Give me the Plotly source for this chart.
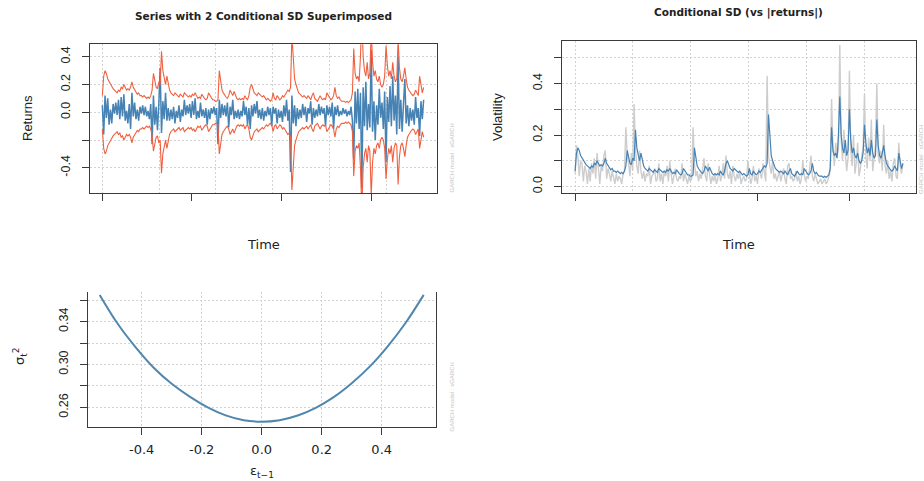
import plotly.graph_objects as go

# ---------------- data ----------------
sigma = [
    0.06, 0.13, 0.15, 0.14, 0.12, 0.11, 0.10, 0.09, 0.085, 0.08,
    0.075, 0.07, 0.08, 0.075, 0.09, 0.085, 0.10, 0.09, 0.08, 0.085,
    0.08, 0.09, 0.11, 0.09, 0.08, 0.07, 0.065, 0.07, 0.06, 0.06,
    0.055, 0.06, 0.055, 0.05, 0.055, 0.05, 0.06, 0.08, 0.14, 0.11,
    0.09, 0.085, 0.11, 0.10, 0.22, 0.15, 0.12, 0.10, 0.13, 0.10,
    0.08, 0.07, 0.065, 0.06, 0.07, 0.065, 0.06, 0.055, 0.065, 0.06,
    0.055, 0.07, 0.065, 0.06, 0.055, 0.06, 0.055, 0.065, 0.06, 0.07,
    0.06, 0.05, 0.055, 0.05, 0.065, 0.055, 0.05, 0.045, 0.05, 0.07,
    0.06, 0.05, 0.045, 0.045, 0.04, 0.04, 0.045, 0.15, 0.11, 0.08,
    0.07, 0.06, 0.055, 0.05, 0.06, 0.08, 0.07, 0.06, 0.075, 0.06,
    0.05, 0.045, 0.05, 0.045, 0.05, 0.045, 0.06, 0.05, 0.045, 0.06,
    0.09, 0.10, 0.08, 0.07, 0.065, 0.06, 0.07, 0.065, 0.06, 0.055,
    0.06, 0.05, 0.045, 0.05, 0.045, 0.04, 0.045, 0.07, 0.05, 0.045,
    0.06, 0.05, 0.045, 0.05, 0.06, 0.055, 0.065, 0.07, 0.08, 0.075,
    0.09, 0.28, 0.17, 0.12, 0.10, 0.08, 0.07, 0.065, 0.06, 0.055,
    0.06, 0.055, 0.05, 0.06, 0.05, 0.045, 0.06, 0.07, 0.05, 0.045,
    0.04, 0.05, 0.06, 0.05, 0.045, 0.05, 0.045, 0.07, 0.06, 0.05,
    0.045, 0.05, 0.06, 0.09, 0.06, 0.05, 0.055, 0.045, 0.04, 0.04,
    0.04, 0.035, 0.04, 0.035, 0.04, 0.045, 0.07, 0.23, 0.14, 0.12,
    0.13, 0.11, 0.20, 0.35, 0.20, 0.15, 0.13, 0.18, 0.12, 0.14,
    0.30, 0.18, 0.13, 0.15, 0.12, 0.11, 0.13, 0.10, 0.09, 0.10,
    0.13, 0.24, 0.17, 0.13, 0.15, 0.12, 0.18, 0.13, 0.11, 0.12,
    0.26, 0.16, 0.12, 0.11, 0.13, 0.16, 0.12, 0.09, 0.08, 0.07,
    0.065, 0.06, 0.065, 0.08, 0.07, 0.06, 0.13, 0.10, 0.07, 0.09,
]

returns = [
    0.05, -0.16, 0.12, -0.04, 0.10, -0.09, 0.02, -0.08, 0.06, -0.01,
    0.07, -0.02, 0.09, -0.05, 0.11, -0.03, 0.13, -0.06, 0.01, -0.08,
    0.06, -0.12, 0.14, -0.03, 0.07, -0.05, 0.02, -0.06, 0.04, -0.01,
    0.05, -0.02, 0.04, -0.03, 0.01, -0.05, 0.06, -0.23, 0.12, -0.09,
    0.04, -0.13, 0.06, 0.32, -0.15, 0.08, -0.05, 0.14, -0.06, 0.03,
    -0.06, 0.02, -0.05, 0.04, -0.08, 0.01, -0.04, 0.05, -0.07, 0.02,
    -0.03, 0.09, -0.02, 0.05, -0.01, 0.06, -0.04, 0.08, -0.02, 0.10,
    -0.05, 0.01, -0.04, 0.07, -0.03, 0.02, -0.04, 0.03, -0.09, 0.02,
    -0.05, 0.03, -0.01, 0.04, -0.02, 0.03, -0.23, 0.09, -0.04, 0.06,
    -0.02, 0.05, -0.03, 0.07, -0.11, 0.04, -0.02, 0.09, -0.05, 0.01,
    -0.04, 0.02, -0.05, 0.01, -0.03, 0.08, -0.02, 0.04, -0.09, 0.03,
    -0.12, 0.05, -0.03, 0.06, -0.01, 0.08, -0.04, 0.02, -0.05, 0.03,
    -0.06, 0.01, -0.03, 0.04, -0.02, 0.03, -0.10, 0.04, -0.01, 0.03,
    -0.08, 0.02, -0.04, 0.01, -0.07, 0.05, -0.03, 0.09, -0.06, 0.02,
    -0.43, 0.12, -0.08, 0.05, -0.10, 0.03, -0.05, 0.02, -0.04, 0.06,
    -0.02, 0.04, -0.07, 0.03, -0.01, 0.08, -0.09, 0.03, -0.04, 0.02,
    -0.03, 0.06, -0.02, 0.04, -0.01, 0.03, -0.10, 0.05, -0.02, 0.04,
    -0.03, 0.07, -0.12, 0.04, -0.02, 0.05, -0.03, 0.01, -0.02, 0.03,
    -0.01, 0.02, -0.03, 0.01, -0.02, 0.04, -0.06, -0.34, 0.15, -0.08,
    0.17, -0.12, 0.14, -0.55, 0.18, -0.10, 0.22, -0.13, 0.06, -0.11,
    0.45, -0.14, 0.08, -0.20, 0.05, -0.09, 0.17, -0.04, 0.07, -0.12,
    0.15, -0.36, 0.11, -0.07, 0.19, -0.10, 0.26, -0.06, 0.12, -0.16,
    0.40, -0.12, 0.09, -0.14, 0.06, 0.24, -0.08, 0.05, -0.10, 0.03,
    -0.06, 0.02, -0.09, 0.11, -0.04, 0.03, -0.17, 0.08, -0.05, 0.09,
]

time_index = [15 * k for k in range(len(sigma))]

news_eps = [-0.54, -0.48, -0.42, -0.36, -0.30, -0.24, -0.18, -0.12, -0.06, 0.0,
            0.06, 0.12, 0.18, 0.24, 0.30, 0.36, 0.42, 0.48, 0.54]
news_sigma = [0.365, 0.338, 0.316, 0.297, 0.282, 0.270, 0.260, 0.2525, 0.248, 0.2466,
              0.248, 0.2523, 0.2595, 0.2695, 0.2825, 0.298, 0.317, 0.339, 0.365]

time_ticks = [0, 1000, 2000, 3000]
time_grid = [0, 633, 1266, 1899, 2532, 3165]
ret_ticks = [-0.4, 0.0, 0.2, 0.4]
ret_labels = ["-0.4", "0.0", "0.2", "0.4"]
ret_minor = [-0.2]
vol_ticks = [0.0, 0.2, 0.4]
vol_labels = ["0.0", "0.2", "0.4"]
vol_minor = [0.1, 0.3, 0.5]
ni_yticks = [0.26, 0.30, 0.34]
ni_ylabels = ["0.26", "0.30", "0.34"]
ni_yminor = [0.28, 0.32, 0.36]
ni_xticks = [-0.4, -0.2, 0.0, 0.2, 0.4]
ni_xlabels = ["-0.4", "-0.2", "0.0", "0.2", "0.4"]

# ---------------- styling helpers ----------------
W, H = 924, 481
STEEL = "#4682B4"
TOMATO = "#F0603F"
GREY = "#CDCDCD"
AX = "#3a3a3a"
GRID = "#D2D2D2"
GDASH = "2px,2px"
TXT = "#222222"
ROT_FONT = dict(family="Liberation Sans, Arial, sans-serif", size=12.5, color=TXT)
HOR_FONT = dict(family="DejaVu Sans, sans-serif", size=13, color=TXT)


def px(x):
    return x / W


def py(y):
    return 1 - y / H


fig = go.Figure()

# Panel 1
fig.add_trace(go.Scatter(x=time_index, y=returns, mode="lines",
                         line=dict(color=STEEL, width=1.5), xaxis="x", yaxis="y"))
fig.add_trace(go.Scatter(x=time_index, y=[2 * s for s in sigma], mode="lines",
                         line=dict(color=TOMATO, width=1.1), xaxis="x", yaxis="y"))
fig.add_trace(go.Scatter(x=time_index, y=[-2 * s for s in sigma], mode="lines",
                         line=dict(color=TOMATO, width=1.1), xaxis="x", yaxis="y"))

# Panel 2
fig.add_trace(go.Scatter(x=time_index, y=[abs(r) for r in returns], mode="lines",
                         line=dict(color=GREY, width=1.4), xaxis="x2", yaxis="y2"))
fig.add_trace(go.Scatter(x=time_index, y=sigma, mode="lines",
                         line=dict(color=STEEL, width=1.2), xaxis="x2", yaxis="y2"))

# Panel 3
fig.add_trace(go.Scatter(x=news_eps, y=news_sigma, mode="lines",
                         line=dict(color="#5087AE", width=2, shape="spline"),
                         xaxis="x3", yaxis="y3"))


def time_xaxis(domain, anchor):
    return dict(domain=domain, anchor=anchor, range=[-143.4, 3728.4],
                tickmode="array", tickvals=time_ticks, showticklabels=False,
                ticks="outside", ticklen=7, tickcolor=AX, showline=True, mirror=True,
                linecolor=AX, linewidth=1, showgrid=False, zeroline=False,
                minor=dict(tickmode="array", tickvals=time_grid, showgrid=True,
                           gridcolor=GRID, griddash=GDASH, gridwidth=1, ticks=""))


def value_yaxis(domain, anchor, rng, tv, tt, mv, mirror=True):
    return dict(domain=domain, anchor=anchor, range=rng, tickmode="array",
                tickvals=tv, ticktext=tt, tickangle=-90, ticks="outside", ticklen=7,
                tickcolor=AX, showline=True, mirror=mirror, linecolor=AX, linewidth=1,
                showgrid=True, gridcolor=GRID, griddash=GDASH, gridwidth=1,
                zeroline=False, tickfont=ROT_FONT, ticklabelstandoff=7,
                minor=dict(tickmode="array", tickvals=mv, ticks="outside", ticklen=7,
                           tickcolor=AX, showgrid=True, gridcolor=GRID, griddash=GDASH,
                           gridwidth=1))


fig.update_layout(
    width=W, height=H, margin=dict(l=0, r=0, t=0, b=0),
    paper_bgcolor="white", plot_bgcolor="white", showlegend=False,
    xaxis=time_xaxis([px(89.5), px(436.5)], "y"),
    yaxis=value_yaxis([py(193.3), py(44.3)], "x", [-0.584, 0.49], ret_ticks, ret_labels, ret_minor),
    xaxis2=time_xaxis([px(562), px(916)], "y2"),
    yaxis2=value_yaxis([py(192.7), py(41.3)], "x2", [-0.024, 0.564], vol_ticks, vol_labels, vol_minor),
    xaxis3=dict(domain=[px(87.7), px(435.7)], anchor="y3", range=[-0.58, 0.58],
                tickmode="array", tickvals=ni_xticks, ticktext=ni_xlabels,
                ticks="outside", ticklen=7, tickcolor=AX, showline=True, mirror=False,
                linecolor=AX, linewidth=1, showgrid=True, gridcolor=GRID,
                griddash=GDASH, zeroline=False, tickfont=HOR_FONT, ticklabelstandoff=4),
    yaxis3=value_yaxis([py(426.7), py(292)], "x3", [0.2419, 0.3677], ni_yticks, ni_ylabels, ni_yminor),
)

ann = []
ann.append(dict(text="<b>Series with 2 Conditional SD Superimposed</b>", x=px(263), y=py(16),
                font=dict(family="DejaVu Sans, sans-serif", size=10.5, color=TXT)))
ann.append(dict(text="<b>Conditional SD (vs |returns|)</b>", x=px(738), y=py(13),
                font=dict(family="DejaVu Sans, sans-serif", size=10.5, color=TXT)))
ann.append(dict(text="Time", x=px(263), y=py(244), font=HOR_FONT))
ann.append(dict(text="Time", x=px(738), y=py(244), font=HOR_FONT))
ann.append(dict(text="Returns", x=px(27), y=py(118), textangle=-90,
                font=dict(family="Liberation Sans, Arial, sans-serif", size=13, color=TXT)))
ann.append(dict(text="Volatility", x=px(498), y=py(117), textangle=-90,
                font=dict(family="Liberation Sans, Arial, sans-serif", size=13, color=TXT)))
ann.append(dict(text="σ<sub>t</sub><sup>2</sup>", x=px(20), y=py(356), textangle=-90,
                font=dict(family="DejaVu Sans, sans-serif", size=13, color=TXT)))
ann.append(dict(text="ε<sub>t−1</sub>", x=px(262), y=py(471), font=HOR_FONT))
for gx, gy in [(451, 158.5), (921, 160), (451, 397.5)]:
    ann.append(dict(text="GARCH model : sGARCH", x=px(gx), y=py(gy), textangle=-90,
                    font=dict(family="Liberation Sans, Arial, sans-serif", size=6, color="#C4C4C4")))
for a in ann:
    a.update(xref="paper", yref="paper", showarrow=False, xanchor="center", yanchor="middle")
fig.update_layout(annotations=ann)

fig.write_html("out.html")
